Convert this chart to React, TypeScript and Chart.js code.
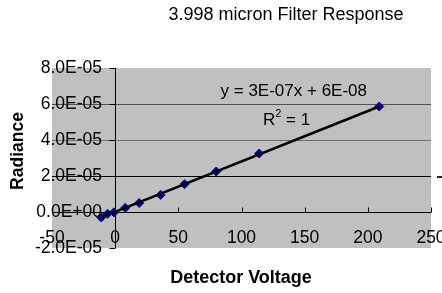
import React, { useEffect, useRef } from "react";
import { Chart, registerables } from "chart.js";

Chart.register(...registerables);

const voltage = [-11, -6, -1, 8, 19, 36, 55, 80, 114, 209];
const radiance = [-3.0e-6, -1.0e-6, -2e-7, 2.3e-6, 5.0e-6, 9.5e-6, 1.55e-5, 2.25e-5, 3.25e-5, 5.86e-5];
const trendVoltage = [-11, 209];
const trendRadiance = [-3.0e-6, 5.86e-5];
const xTickValues = [-50, 0, 50, 100, 150, 200, 250];
const xTickLabels = ["-50", "0", "50", "100", "150", "200", "250"];
const yTickValues = [8e-5, 6e-5, 4e-5, 2e-5, 0, -2e-5];
const yTickLabels = ["8.0E-05", "6.0E-05", "4.0E-05", "2.0E-05", "0.0E+00", "-2.0E-05"];
const gridValues = [6e-5, 4e-5, 2e-5];
const gridColors = ["#505050", "#707070", "#000000"];
const titleText = "3.998 micron Filter Response";
const xTitle = "Detector Voltage";
const yTitle = "Radiance";
const eqText = "y = 3E-07x + 6E-08";

const FONT = "'Liberation Sans', Arial, sans-serif";

const excelPlugin = {
  id: "excelLook",
  beforeDatasetsDraw(chart: any) {
    const { ctx, chartArea: a, scales } = chart;
    const x = scales.x;
    const y = scales.y;
    ctx.save();
    ctx.fillStyle = "#C0C0C0";
    ctx.fillRect(a.left, a.top, a.right - a.left, a.bottom - a.top);
    ctx.lineWidth = 1;
    gridValues.forEach((v, i) => {
      const py = Math.round(y.getPixelForValue(v)) + 0.5;
      ctx.strokeStyle = gridColors[i];
      ctx.beginPath();
      ctx.moveTo(a.left, py);
      ctx.lineTo(a.right, py);
      ctx.stroke();
    });
    const y0 = Math.round(y.getPixelForValue(0)) + 0.5;
    ctx.strokeStyle = "#000";
    ctx.beginPath();
    ctx.moveTo(a.left, y0);
    ctx.lineTo(a.right, y0);
    ctx.stroke();
    xTickValues.forEach((v) => {
      if (v === 0) return;
      const px = Math.round(x.getPixelForValue(v)) + 0.5;
      ctx.beginPath();
      ctx.moveTo(px, y0);
      ctx.lineTo(px, y0 - 5);
      ctx.stroke();
    });
    const x0 = Math.round(x.getPixelForValue(0)) + 0.5;
    ctx.beginPath();
    ctx.moveTo(x0, a.top);
    ctx.lineTo(x0, a.bottom);
    ctx.stroke();
    yTickValues.forEach((v) => {
      const py = Math.round(y.getPixelForValue(v)) + 0.5;
      ctx.beginPath();
      ctx.moveTo(x0 - 6, py);
      ctx.lineTo(x0, py);
      ctx.stroke();
    });
    ctx.restore();
  },
  afterDraw(chart: any) {
    const { ctx, chartArea: a, scales } = chart;
    const x = scales.x;
    const y = scales.y;
    ctx.save();
    ctx.fillStyle = "#000";
    ctx.font = `17.5px ${FONT}`;
    ctx.textBaseline = "middle";
    ctx.textAlign = "center";
    xTickValues.forEach((v, i) => {
      ctx.fillText(xTickLabels[i], x.getPixelForValue(v), a.bottom - 10);
    });
    ctx.textAlign = "right";
    yTickValues.forEach((v, i) => {
      ctx.fillText(yTickLabels[i], a.left + 50, y.getPixelForValue(v) + 0.5);
    });
    ctx.font = `17px ${FONT}`;
    ctx.textAlign = "right";
    ctx.fillText(eqText, 367, 91);
    ctx.textAlign = "left";
    ctx.fillText("R", 263, 120);
    const rW = ctx.measureText("R").width;
    ctx.font = `11px ${FONT}`;
    ctx.fillText("2", 263 + rW, 114);
    const sW = ctx.measureText("2").width;
    ctx.font = `17px ${FONT}`;
    ctx.fillText(" = 1", 263 + rW + sW, 120);
    ctx.font = `18px ${FONT}`;
    ctx.textAlign = "center";
    ctx.fillText(titleText, 286, 15);
    ctx.font = `bold 18px ${FONT}`;
    ctx.fillText(xTitle, 241, 278);
    ctx.font = `bold 17.5px ${FONT}`;
    ctx.translate(18, 151);
    ctx.rotate(-Math.PI / 2);
    ctx.fillText(yTitle, 0, 0);
    ctx.restore();
    ctx.save();
    ctx.fillStyle = "#222";
    ctx.fillRect(437, 176, 5, 2);
    ctx.restore();
  },
};

export default function App() {
  const ref = useRef<HTMLCanvasElement | null>(null);
  useEffect(() => {
    if (!ref.current) return;
    const chart = new Chart(ref.current, {
      type: "scatter",
      data: {
        datasets: [
          {
            type: "line",
            data: trendVoltage.map((v, i) => ({ x: v, y: trendRadiance[i] })),
            borderColor: "#000",
            borderWidth: 2.5,
            pointRadius: 0,
            showLine: true,
            fill: false,
            order: 0,
          } as any,
          {
            data: voltage.map((v, i) => ({ x: v, y: radiance[i] })),
            pointStyle: "rectRot",
            pointRadius: 4.5,
            backgroundColor: "#000080",
            borderColor: "#000080",
            borderWidth: 1,
            showLine: false,
            order: 1,
          },
        ],
      },
      options: {
        responsive: false,
        animation: false,
        layout: { padding: { left: 52, top: 68, right: 11, bottom: 45 } },
        plugins: { legend: { display: false }, tooltip: { enabled: false }, title: { display: false } },
        scales: {
          x: { type: "linear", min: -50, max: 250, display: false },
          y: { type: "linear", min: -2e-5, max: 8e-5, display: false },
        },
      },
      plugins: [excelPlugin],
    });
    return () => chart.destroy();
  }, []);
  return (
    <div style={{ position: "absolute", left: 0, top: 0, width: 442, height: 293, background: "#fff" }}>
      <canvas ref={ref} width={442} height={293} />
    </div>
  );
}
